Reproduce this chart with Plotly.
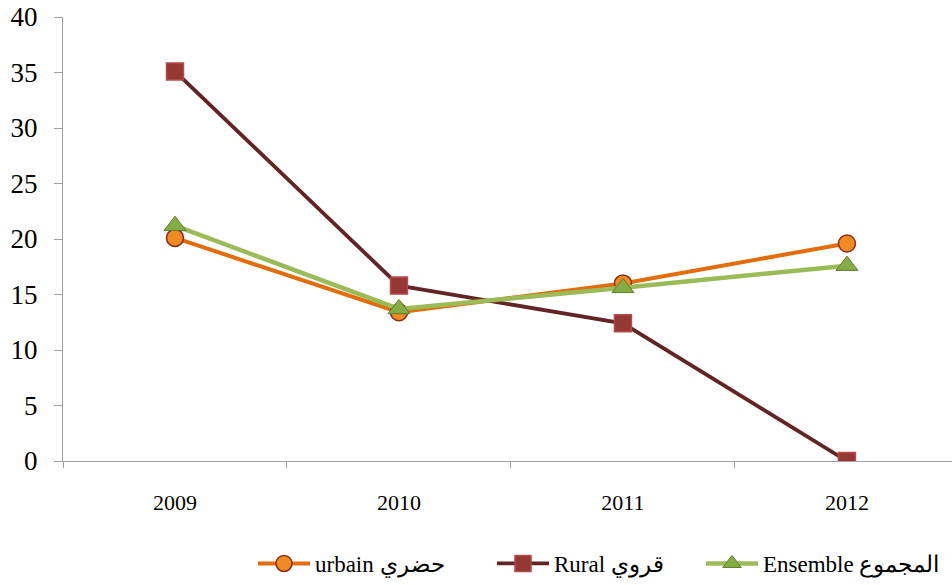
import plotly.graph_objects as go

years = ["2009", "2010", "2011", "2012"]
urbain = [20.1, 13.4, 16.0, 19.6]
rural = [35.1, 15.8, 12.4, 0.0]
ensemble = [21.2, 13.7, 15.6, 17.6]

names = ["urbain حضري", "Rural قروي", "Ensemble المجموع"]

fig = go.Figure()
fig.add_trace(go.Scatter(
    x=years, y=urbain, name=names[0], mode="lines+markers", legend="legend",
    line=dict(color="#E46C0A", width=4),
    marker=dict(symbol="circle", size=17, color="#F08A24",
                line=dict(color="#8B2E1E", width=1.5)),
))
fig.add_trace(go.Scatter(
    x=years, y=rural, name=names[1], mode="lines+markers", legend="legend2",
    line=dict(color="#632523", width=3.8),
    marker=dict(symbol="square", size=17, color="#953735",
                line=dict(color="#B54A48", width=1.5)),
))
fig.add_trace(go.Scatter(
    x=years, y=ensemble, name=names[2], mode="lines+markers", legend="legend3",
    line=dict(color="#9BBB59", width=4.5),
    marker=dict(symbol="triangle-up", size=19, color="#86AD45",
                line=dict(color="#5E7E2C", width=1)),
))

# plot area spans screen x 63..952, y 17..463
L, T, H = 63, 17, 446
PW = 889

def lx(screen_x):
    return (screen_x - L) / PW

leg_common = dict(orientation="h", y=-0.183, yanchor="top", xanchor="left",
                  font=dict(size=23, family="Liberation Serif, serif"),
                  itemwidth=52, bgcolor="rgba(0,0,0,0)")

fig.update_layout(
    width=952, height=585,
    margin=dict(l=L, r=0, t=T, b=585 - T - H),
    paper_bgcolor="white", plot_bgcolor="white",
    font=dict(family="Liberation Serif, Times New Roman, serif", color="black"),
    showlegend=True,
    legend=dict(x=lx(253), **leg_common),
    legend2=dict(x=lx(492), **leg_common),
    legend3=dict(x=lx(701), **leg_common),
    xaxis=dict(type="category", range=[-0.5, 3.469], showgrid=False, automargin=False,
               showline=True, linecolor="#A0A0A0", linewidth=1.2,
               ticks="outside", tickson="boundaries", ticklen=6, tickcolor="#A0A0A0",
               tickfont=dict(size=22, family="Liberation Serif, serif"),
               ticklabelstandoff=21, zeroline=False),
    yaxis=dict(range=[0, 40], tickvals=[0, 5, 10, 15, 20, 25, 30, 35, 40],
               showgrid=False, showline=True, linecolor="#A0A0A0", linewidth=1.2,
               automargin=False,
               ticks="outside", ticklen=8, tickcolor="#A0A0A0",
               tickfont=dict(size=27, family="Liberation Serif, serif"),
               ticklabelstandoff=11, zeroline=False),
)

fig.write_html("out.html", config={"displayModeBar": False},
               post_script="document.body.style.margin='0';document.body.style.overflow='hidden';")
